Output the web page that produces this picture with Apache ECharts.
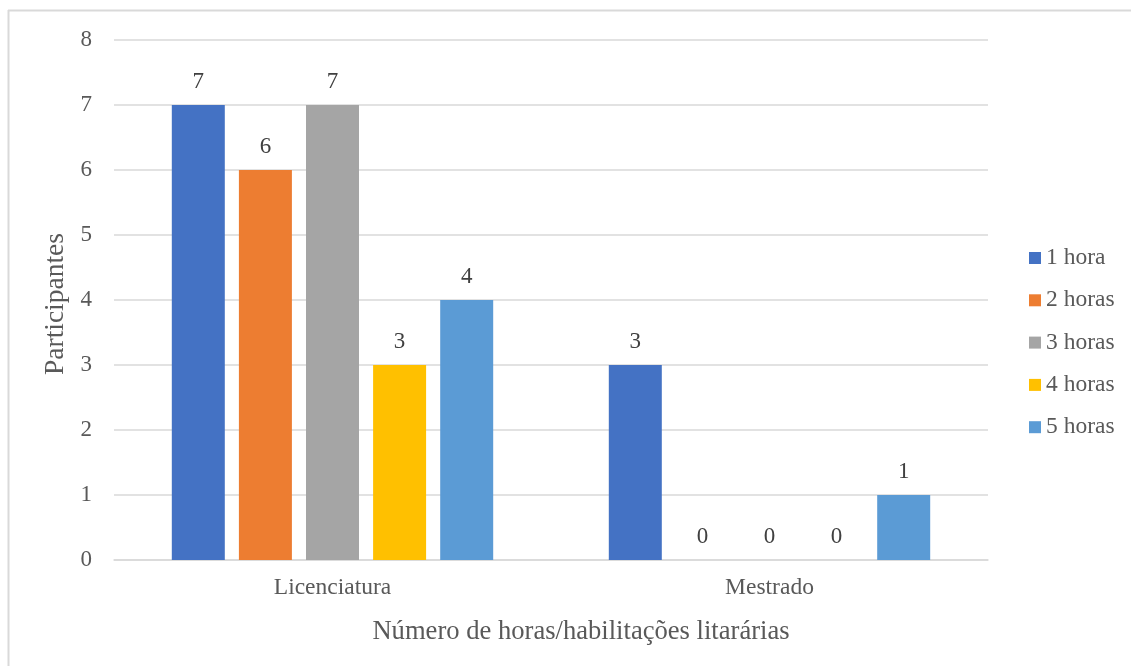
<!DOCTYPE html>
<html>
<head>
<meta charset="utf-8">
<script src="https://cdn.jsdelivr.net/npm/echarts@6/dist/echarts.min.js"></script>
<style>html,body{margin:0;padding:0;background:#fff;}#c{width:1131px;height:666px;}</style>
</head>
<body>
<div id="c"></div>
<script>
const categories = ['Licenciatura', 'Mestrado'];
const seriesNames = ['1 hora', '2 horas', '3 horas', '4 horas', '5 horas'];
const hora1 = [7, 3];
const horas2 = [6, 0];
const horas3 = [7, 0];
const horas4 = [3, 0];
const horas5 = [4, 1];
const yTicks = [0, 1, 2, 3, 4, 5, 6, 7, 8];
const colors = ['#4472C4', '#ED7D31', '#A5A5A5', '#FFC000', '#5B9BD5'];
const values = [hora1, horas2, horas3, horas4, horas5];

const font = '"Liberation Serif", "Times New Roman", serif';
const chart = echarts.init(document.getElementById('c'), null, {renderer: 'canvas'});
chart.setOption({
  animation: false,
  textStyle: {fontFamily: font},
  graphic: [
    {type: 'line', shape: {x1: 8.5, y1: 10, x2: 8.5, y2: 666}, style: {stroke: '#D9D9D9', lineWidth: 2}},
    {type: 'line', shape: {x1: 8, y1: 10.5, x2: 1131, y2: 10.5}, style: {stroke: '#D9D9D9', lineWidth: 2}}
  ],
  grid: {left: 114, right: 143, top: 40, bottom: 106},
  legend: {
    orient: 'vertical',
    left: 1029,
    top: 246,
    padding: 0,
    itemWidth: 12,
    itemHeight: 12,
    itemGap: 18.3,
    icon: 'rect',
    textStyle: {fontFamily: font, fontSize: 23.5, color: '#595959'},
    data: seriesNames
  },
  xAxis: {
    type: 'category',
    data: categories,
    axisTick: {show: false},
    axisLine: {lineStyle: {color: '#D9D9D9', width: 1.5}},
    axisLabel: {fontFamily: font, fontSize: 23.5, color: '#595959', margin: 16},
    name: 'Número de horas/habilitações litarárias',
    nameLocation: 'middle',
    nameGap: 59,
    nameTextStyle: {fontFamily: font, fontSize: 26.6, color: '#595959', padding: [0, 0, 0, 60]}
  },
  yAxis: {
    type: 'value',
    min: 0,
    max: 8,
    interval: 1,
    axisLine: {show: false},
    axisTick: {show: false},
    splitLine: {lineStyle: {color: '#D9D9D9', width: 1.5}},
    axisLabel: {fontFamily: font, fontSize: 23, color: '#595959', margin: 22,
      formatter: v => yTicks.includes(v) ? String(v) : ''},
    name: 'Participantes',
    nameLocation: 'middle',
    nameGap: 40,
    nameTextStyle: {fontFamily: font, fontSize: 27.5, color: '#595959', padding: [0, 8, 0, 0]}
  },
  series: seriesNames.map((n, i) => ({
    name: n,
    type: 'bar',
    data: values[i],
    barWidth: 53,
    barGap: '26.6%',
    itemStyle: {color: colors[i]},
    label: {show: true, position: 'top', distance: 12, fontFamily: font, fontSize: 23, color: '#404040'}
  }))
});
</script>
</body>
</html>
